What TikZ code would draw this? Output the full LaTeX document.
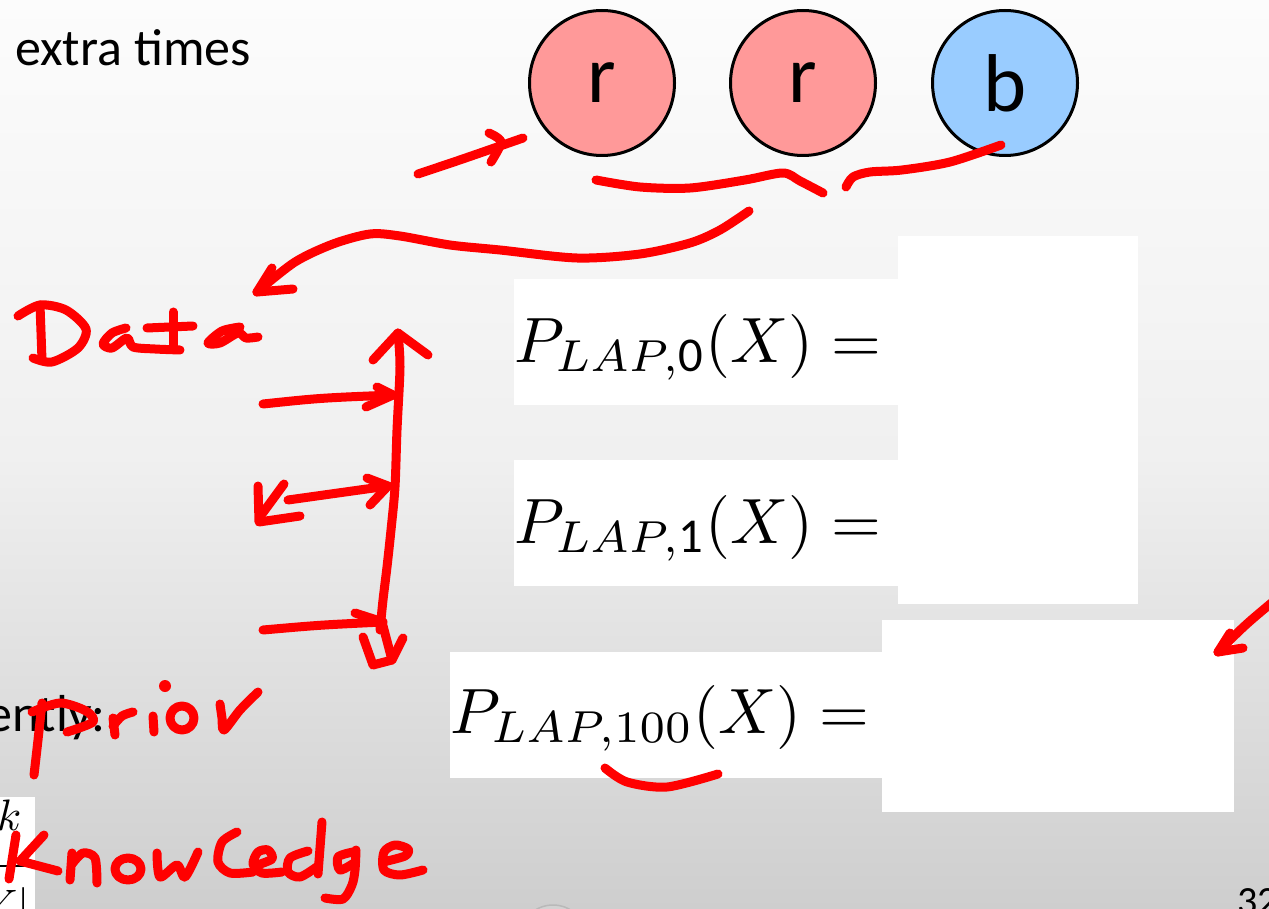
\documentclass[tikz,border=0pt]{standalone}
\usepackage{fontspec}
\setmainfont{Carlito}
\definecolor{rfill}{RGB}{255,153,153}
\definecolor{bfill}{RGB}{153,204,255}
\definecolor{bgtop}{RGB}{252,252,252}
\definecolor{bgmid}{RGB}{240,240,240}
\definecolor{bgbot}{RGB}{206,206,206}
\definecolor{logofill}{RGB}{210,210,210}
\definecolor{logoedge}{RGB}{185,185,185}
\definecolor{ink}{RGB}{255,0,0}
\newcommand{\bigmath}[1]{\scalebox{6.4}{$#1$}}
\newcommand{\fragmath}[1]{\scalebox{4.4}{$#1$}}
\newcommand{\subtxt}[1]{\hbox{\fontsize{7.6}{8}\selectfont #1}}
\begin{document}
\begin{tikzpicture}[x=1pt,y=-1pt,
  hand/.style={draw=ink,line width=9pt,line cap=round,line join=round},
  circ/.style={circle,draw=black,line width=3pt,minimum size=145pt,inner sep=0pt,font=\fontsize{82}{90}\selectfont},
  eq/.style={anchor=base west,inner sep=0pt},
  slide/.style={inner sep=0pt,font=\fontsize{52}{60}\selectfont},
  frag/.style={inner sep=0pt}]
\useasboundingbox (0,0) rectangle (1269,909);
\clip (0,0) rectangle (1269,909);
\shade[top color=bgtop,bottom color=bgbot,middle color=bgmid] (0,0) rectangle (1269,909);
\filldraw[fill=logofill,draw=logoedge,line width=1.5pt] (553,935) ellipse (32 and 30);
% white boxes
\fill[white] (514,279) rectangle (898,405);
\fill[white] (898,236) rectangle (1138,604);
\fill[white] (514,460) rectangle (898,586);
\fill[white] (450,652) rectangle (882,778);
\fill[white] (882,620) rectangle (1234,812);
\fill[white] (0,797) rectangle (35,909);
% slide text
\node[slide,anchor=base west] (extra) at (15,66) {extra times};
\node[slide,anchor=base west] (ently) at (-14,731) {ently:};
\begin{scope}
\clip (0,797) rectangle (35,909);
\node[frag,anchor=base west] (kfrag) at (-3,830) {\fragmath{k}};
\draw[line width=2pt] (0,866) -- (28,866);
\node[frag,anchor=base east] (yfrag) at (30,920) {\fragmath{Y|}};
\end{scope}
\node[inner sep=0pt,anchor=base west,font=\fontsize{40}{44}\selectfont] (pnum) at (1237,914) {32};
% equations
\node[eq] (p0) at (514,362) {\bigmath{P_{LAP,\subtxt{0}}(X) =}};
\node[eq] (p1) at (514,543) {\bigmath{P_{LAP,\subtxt{1}}(X) =}};
\node[eq] (p100) at (450,733) {\bigmath{P_{LAP,100}(X) =}};
% circles
\node[circ,fill=rfill] (r1) at (602,83) {\raisebox{-9pt}{r}};
\node[circ,fill=rfill] (r2) at (803,83) {\raisebox{-9pt}{r}};
\node[circ,fill=bfill] (b1) at (1005,83) {\raisebox{-9pt}{b}};
% annotations
\draw[hand] (418,174) .. controls (460,160) .. (523,138);
\draw[hand] plot[smooth] coordinates {(489,133) (501,142) (491,162)};
\draw[hand] plot[smooth] coordinates {(596,180) (640,187) (690,188) (745,180) (783,173) (800,181) (823,193)};
\draw[hand] plot[smooth] coordinates {(846,187) (853,177) (870,172) (902,170) (950,162) (1001,145)};
\draw[hand] plot[smooth] coordinates {(749,211) (720,230) (690,243) (640,254) (577,258) (500,250) (450,245) (400,236) (370,234) (333,244) (295,262) (257,292)};
\draw[hand] (272,268) -- (257,292) -- (293,289);
% vertical arrow
\draw[hand] plot[smooth] coordinates {(398,333) (400,367) (397,430) (395,487) (391,530) (387,567) (383,600) (380,630)};
\draw[hand] (373,360) -- (398,333) -- (428,355);
\draw[hand] (263,404) .. controls (320,398) .. (393,395);
\draw[hand] (377,387) -- (393,395) -- (366,407);
\draw[hand] (288,500) -- (388,486);
\draw[hand] (367,478) -- (388,486) -- (370,505);
\draw[hand] (258,486) -- (259,522) -- (300,516);
\draw[hand] (284,484) -- (262,514);
\draw[hand] (263,630) .. controls (320,625) .. (383,622);
\draw[hand] (355,613) -- (383,622);
\draw[hand] (363,637) -- (373,665) -- (392,660) -- (403,638);
\draw[hand] (382,622) -- (392,660);
% Data
\draw[hand] plot[smooth] coordinates {(40,305) (41,332) (42,360)};
\draw[hand] plot[smooth] coordinates {(18,316) (40,305) (66,310) (86,329) (78,348) (52,362) (33,358)};
\draw[hand] plot[smooth] coordinates {(126,328) (112,333) (103,344) (112,348) (127,338) (133,347) (155,349) (180,350)};
\draw[hand] (173,312) -- (173,349);
\draw[hand] (147,328) -- (193,326);
\draw[hand] plot[smooth] coordinates {(240,327) (222,331) (208,343) (220,343) (238,333) (246,338) (258,337)};
% Prior
\draw[hand] plot[smooth] coordinates {(42,703) (38,740) (34,775)};
\draw[hand] plot[smooth] coordinates {(32,712) (60,703) (86,711) (93,722) (67,732)};
\draw[hand] (113,718) -- (115,735);
\draw[hand] plot[smooth] coordinates {(113,726) (122,716) (133,712)};
\draw[hand] (153,716) -- (154,732);
\fill[ink] (165,686) circle (6);
\draw[hand] (182,718) ellipse (12 and 12);
\draw[hand] plot[smooth] coordinates {(220,704) (222,718) (224,730) (240,710) (258,692)};
% Knowledge
\draw[hand] (16,835) -- (9,879);
\draw[hand] (44,835) -- (20,861) -- (58,871);
\draw[hand] (72,853) -- (70,880);
\draw[hand] plot[smooth] coordinates {(72,864) (83,853) (95,858) (97,883)};
\draw[hand] (128,869) ellipse (13 and 11);
\draw[hand] plot[smooth] coordinates {(157,853) (160,877) (177,865) (185,877) (198,852)};
\draw[hand] plot[smooth] coordinates {(237,832) (222,842) (218,862) (230,873) (253,872)};
\draw[hand] plot[smooth] coordinates {(254,866) (272,859) (268,850) (258,852) (253,864) (262,873) (282,872)};
\draw[hand] plot[smooth] coordinates {(308,851) (290,858) (288,872) (300,877) (318,866)};
\draw[hand] (322,822) -- (318,874);
\draw[hand] plot[smooth] coordinates {(353,852) (338,857) (340,870) (354,863)};
\draw[hand] plot[smooth] coordinates {(356,850) (355,870) (352,885) (343,899) (325,898)};
\draw[hand] plot[smooth] coordinates {(383,862) (405,856) (408,849) (395,845) (384,852) (384,870) (400,875) (423,870)};
% right arrow and underline
\draw[hand] (1275,600) .. controls (1245,625) .. (1218,652);
\draw[hand] (1230,633) -- (1218,652) -- (1243,648);
\draw[hand] plot[smooth] coordinates {(605,768) (627,782) (667,787) (718,774)};
\end{tikzpicture}
\end{document}
